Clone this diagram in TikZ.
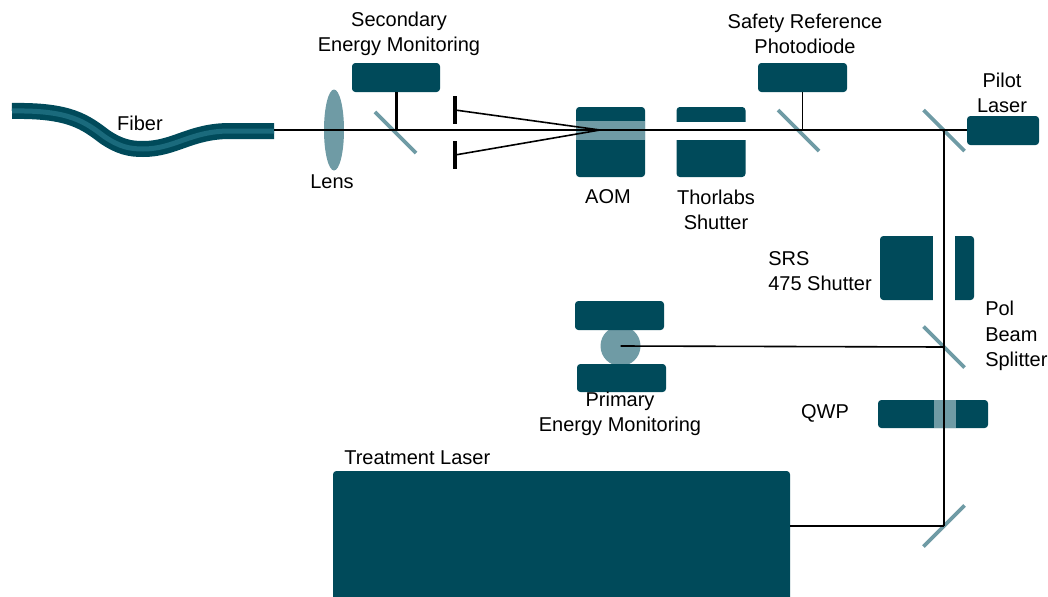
\documentclass[tikz,border=0pt]{standalone}
\usepackage{xcolor}
\usepackage{fontspec}
\setmainfont{Liberation Sans}
\usetikzlibrary{shapes.geometric, positioning, calc}
\definecolor{mydark}{RGB}{0,74,90}
\definecolor{mylight}{RGB}{111,155,165}
\definecolor{mymid}{RGB}{26,106,124}
\def\px{0.75pt}
\tikzset{
  block/.style={rectangle, draw=none, fill=mydark, rounded corners=2.5pt, inner sep=0pt},
  gapbox/.style={rectangle, draw=none, fill=white, inner sep=0pt},
  bandbox/.style={rectangle, draw=none, fill=mylight, inner sep=0pt},
  mirror/.style={rectangle, draw=none, fill=mylight, inner sep=0pt, minimum width=58*\px, minimum height=3.6*\px},
  aperture/.style={rectangle, draw=none, fill=black, inner sep=0pt, minimum width=3.5*\px, minimum height=28*\px},
  label/.style={align=center, inner sep=0pt, font=\fontsize{15}{19}\selectfont},
  beam/.style={line width=1.6*\px, color=black},
  stem/.style={line width=3*\px, color=black}
}
\begin{document}
\begin{tikzpicture}[x=0.75pt, y=-0.75pt]
  \useasboundingbox (0,0) rectangle (1048,596);

  % Fiber
  \coordinate (fiberend) at (274,131);
  \draw[color=mydark, line width=16*\px] (12,111) .. controls (70,110) and (85,122) .. (105,137) .. controls (120,147) and (130,149) .. (143,149) .. controls (175,149) and (190,131) .. (230,131) -- (fiberend);
  \draw[color=mymid, line width=5*\px] (12,111) .. controls (70,110) and (85,122) .. (105,137) .. controls (120,147) and (130,149) .. (143,149) .. controls (175,149) and (190,131) .. (230,131) -- (fiberend);

  % Components
  \node[ellipse, fill=mylight, inner sep=0pt, minimum width=20*\px, minimum height=81*\px] (lens) at (334,130) {};
  \node[block, minimum width=88*\px, minimum height=29*\px] (secondary) at (396,77.5) {};
  \node[mirror, rotate=-45] (secmirror) at (395.5,132.5) {};
  \node[aperture] (apertop) at (455,110) {};
  \node[aperture] (aperbot) at (455,155) {};
  \node[block, minimum width=69*\px, minimum height=70*\px] (aom) at (610.5,142) {};
  \node[bandbox, minimum width=69*\px, minimum height=19*\px] (aomband) at (610.5,130.5) {};
  \node[block, minimum width=69*\px, minimum height=70*\px] (thorlabs) at (711,142) {};
  \node[gapbox, minimum width=71*\px, minimum height=18*\px] (thorgap) at (711,131) {};
  \node[block, minimum width=89*\px, minimum height=29*\px] (safety) at (802.5,77.5) {};
  \node[mirror, rotate=-45] (safemirror) at (798.5,130.5) {};
  \node[mirror, rotate=-45] (pilotmirror) at (944,130.5) {};
  \node[block, minimum width=72*\px, minimum height=29*\px] (pilot) at (1003,130.5) {};
  \node[block, minimum width=94*\px, minimum height=64*\px] (srs) at (927,268) {};
  \node[gapbox, minimum width=22*\px, minimum height=66*\px] (srsgap) at (944,268) {};
  \node[mirror, rotate=-45] (polmirror) at (944,347) {};
  \node[block, minimum width=110*\px, minimum height=28*\px] (qwp) at (933,414) {};
  \node[bandbox, minimum width=22.5*\px, minimum height=28*\px] (qwpband) at (945,414) {};
  \node[mirror, rotate=45] (foldmirror) at (944,526) {};
  \node[circle, fill=mylight, inner sep=0pt, minimum size=40*\px] (primary) at (620.5,346) {};
  \node[block, minimum width=89*\px, minimum height=29*\px] (primtop) at (619.5,315.5) {};
  \node[block, minimum width=89*\px, minimum height=28*\px] (primbot) at (621.5,378) {};
  \node[block, minimum width=457*\px, minimum height=145*\px] (treatment) at (561.5,543.5) {};

  % Beam path
  \coordinate (focus) at (600,130);
  \coordinate (secjoin) at (secondary.south |- focus);
  \coordinate (safejoin) at (safety.south |- focus);
  \coordinate (pilotjoin) at (944,130);
  \coordinate (poljoin) at (944,347);
  \coordinate (foldjoin) at (944,526);
  \draw[beam] (fiberend |- focus) -- (pilot.west |- focus);
  \draw[stem] (secondary.south) -- (secjoin);
  \draw[beam] (safety.south) -- (safejoin);
  \draw[line width=1.6*\px] (apertop) -- (focus);
  \draw[line width=1.6*\px] (aperbot) -- (focus);
  \draw[beam] (pilotjoin) -- (foldjoin);
  \draw[beam] (primary.center) -- (poljoin);
  \draw[beam] (treatment.east |- foldjoin) -- (foldjoin);

  % Labels
  \node[label] (fiberlbl) at (140,123) {Fiber};
  \node[label] (lenslbl) at (332,182) {Lens};
  \node[label] (seclbl) at (399,33.5) {Secondary\\Energy Monitoring};
  \node[label] (aomlbl) at (608,197) {AOM};
  \node[label] (thorlbl) at (716,210) {Thorlabs\\Shutter};
  \node[label] (safelbl) at (805,34) {Safety Reference\\Photodiode};
  \node[label] (pilotlbl) at (1002,93) {Pilot\\Laser};
  \node[label, align=left, anchor=west] (srslbl) at (768,271) {SRS\\475 Shutter};
  \node[label, align=left, anchor=west] (pollbl) at (985,336) {Pol\\Beam\\Splitter};
  \node[label] (primlbl) at (620,414) {Primary\\Energy Monitoring};
  \node[label] (qwplbl) at (825,413) {QWP};
  \node[label, anchor=west] (treatlbl) at (344,458) {Treatment Laser};
\end{tikzpicture}
\end{document}
